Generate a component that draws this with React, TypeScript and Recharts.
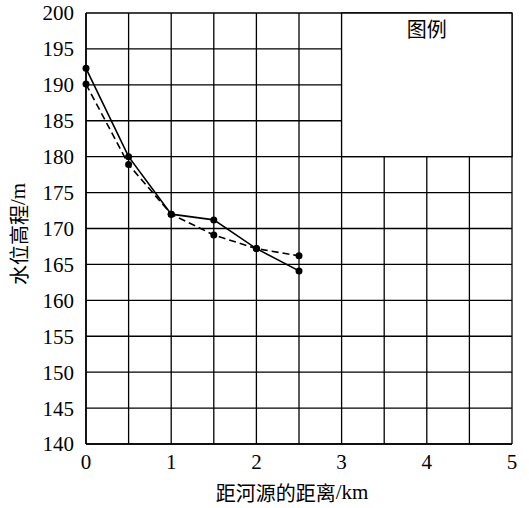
import React from 'react';
import {
  LineChart,
  Line,
  XAxis,
  YAxis,
  CartesianGrid,
  ReferenceArea,
} from 'recharts';

const distances = [0, 0.5, 1, 1.5, 2, 2.5];
const solidLevels = [192.3, 180.0, 172.0, 171.2, 167.2, 164.1];
const dashedLevels = [190.1, 178.9, 172.0, 169.1, 167.2, 166.2];
const xTicks = [0, 0.5, 1, 1.5, 2, 2.5, 3, 3.5, 4, 4.5, 5];
const yTicks = [140, 145, 150, 155, 160, 165, 170, 175, 180, 185, 190, 195, 200];
const xLabelMain = '距河源的距离';
const xLabelUnit = '/km';
const yLabelMain = '水位高程';
const yLabelUnit = '/m';
const legendTitle = '图例';

const data = distances.map((d, i) => ({
  x: d,
  solid: solidLevels[i],
  dashed: dashedLevels[i],
}));

const NUM_FONT = 'Liberation Serif';
const CJK_FONT = 'Noto Sans CJK SC';
const tickStyle = { fill: '#000', fontSize: 21, fontFamily: NUM_FONT };

const renderXLabel = () => (
  <text x={292} y={492} textAnchor="middle" dominantBaseline="central" fill="#000" fontSize={20}>
    <tspan fontFamily={CJK_FONT}>{xLabelMain}</tspan>
    <tspan fontFamily={NUM_FONT} fontSize={21}>{xLabelUnit}</tspan>
  </text>
);

const renderYLabel = () => (
  <text
    x={18}
    y={234}
    transform="rotate(-90 18 234)"
    textAnchor="middle"
    dominantBaseline="central"
    fill="#000"
    fontSize={20}
  >
    <tspan fontFamily={CJK_FONT}>{yLabelMain}</tspan>
    <tspan fontFamily={NUM_FONT} fontSize={21}>{yLabelUnit}</tspan>
  </text>
);

export default function App() {
  return (
    <div style={{ position: 'absolute', left: 0, top: 0, background: '#fff' }}>
      <LineChart
        width={529}
        height={508}
        data={data}
        margin={{ top: 13, right: 17, bottom: 34, left: 0 }}
      >
        <CartesianGrid stroke="#000" strokeWidth={1.3} />
        <XAxis
          dataKey="x"
          type="number"
          domain={[0, 5]}
          ticks={xTicks}
          interval={0}
          tickFormatter={(v: number) => (Number.isInteger(v) ? String(v) : '')}
          tickLine={false}
          axisLine={{ stroke: '#000', strokeWidth: 1.5 }}
          height={30}
          tickMargin={4}
          tick={tickStyle}
          label={{ content: renderXLabel }}
        />
        <YAxis
          type="number"
          domain={[140, 200]}
          ticks={yTicks}
          interval={0}
          tickLine={false}
          axisLine={{ stroke: '#000', strokeWidth: 1.5 }}
          width={86}
          tickMargin={6}
          tick={tickStyle}
          label={{ content: renderYLabel }}
        />
        <ReferenceArea
          x1={3}
          x2={5}
          y1={180}
          y2={200}
          fill="#fff"
          fillOpacity={1}
          stroke="#000"
          strokeWidth={1.3}
          label={{
            value: legendTitle,
            position: 'insideTop',
            offset: 10,
            fill: '#000',
            fontSize: 20,
            fontFamily: CJK_FONT,
          }}
        />
        <Line
          dataKey="dashed"
          stroke="#000"
          strokeWidth={1.6}
          strokeDasharray="7 4"
          dot={{ r: 3.5, fill: '#000', stroke: '#000', strokeWidth: 0 }}
          isAnimationActive={false}
        />
        <Line
          dataKey="solid"
          stroke="#000"
          strokeWidth={1.6}
          dot={{ r: 3.5, fill: '#000', stroke: '#000', strokeWidth: 0 }}
          isAnimationActive={false}
        />
      </LineChart>
    </div>
  );
}
